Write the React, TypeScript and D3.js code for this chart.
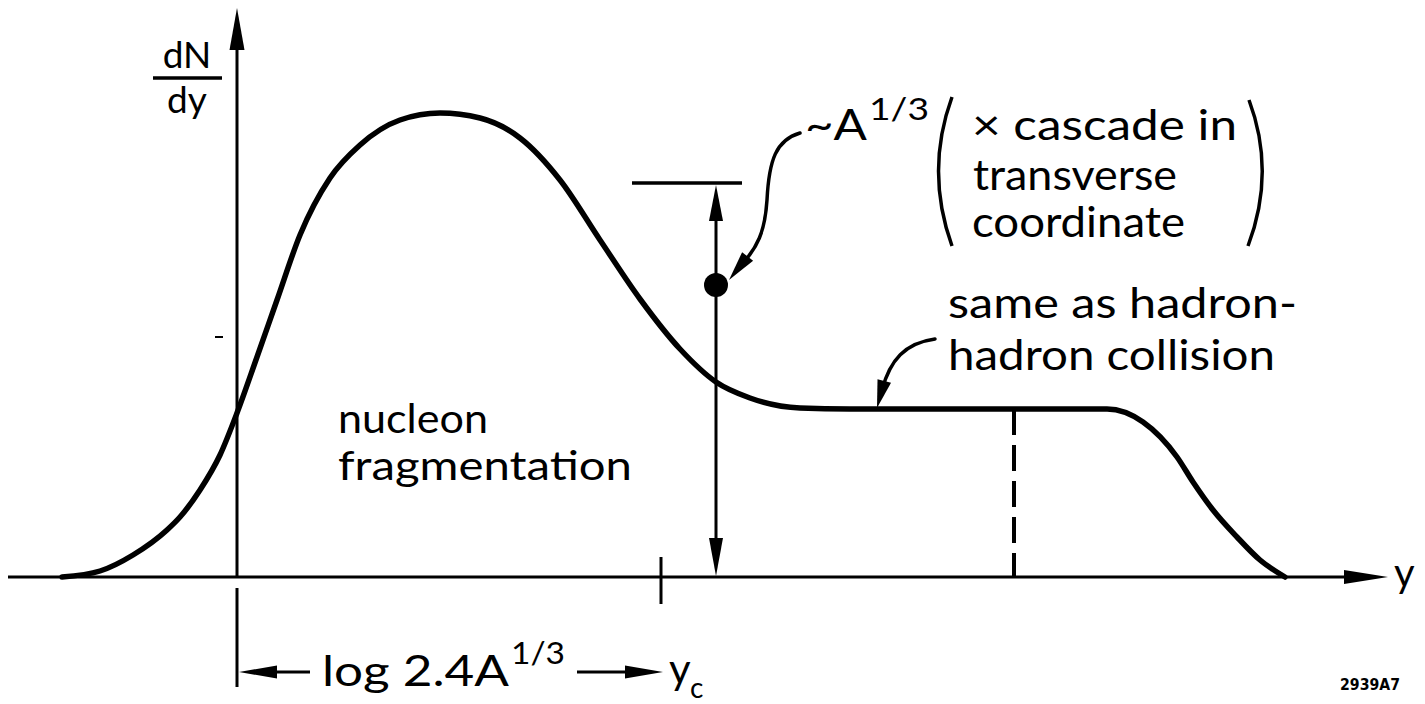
import React from "react";
import * as d3 from "d3";

const W = 1425;
const H = 704;
const FONT = "Lato, 'DejaVu Sans', sans-serif";

// Rapidity samples and the sketched dN/dy of the nucleus–nucleus distribution
const curveRapidity = [
  -1.75, -1.37, -1.04, -0.7, -0.57, -0.37, -0.17, 0, 0.2, 0.4, 0.63, 0.93,
  1.23, 1.63, 2.03, 2.43, 2.83, 3.23, 3.63, 4.03, 4.43, 4.79, 5.13, 5.63, 6.13,
  7.0, 8.0, 8.7, 9.06, 9.4, 9.56, 9.76, 10.0, 10.23, 10.48,
];
const curveDensity = [
  0, 0.06, 0.22, 0.47, 0.6, 0.87, 1.22, 1.64, 2.2, 2.77, 3.42, 3.99, 4.32,
  4.57, 4.64, 4.59, 4.39, 3.97, 3.37, 2.78, 2.28, 1.95, 1.79, 1.69, 1.68, 1.68,
  1.68, 1.68, 1.55, 1.2, 0.95, 0.67, 0.4, 0.17, 0,
];

// Marked rapidities and heights
const yCut = [4.24]; // y_c
const enhancementAt = [4.79]; // the ~A^{1/3} double arrow
const enhancementTop = [3.94];
const enhancementDot = [2.92];
const plateauEnd = [7.77]; // dashed line under the plateau
const plateauLevel = [1.68];

// Text
const cascadeLines = ["\u00d7 cascade in", "transverse", "coordinate"];
const hadronLines = ["same as hadron-", "hadron collision"];
const fragLines = ["nucleon", "fragmentation"];
const figureId = ["2939A7"];

type P = [number, number];

function arrowHead(tip: P, from: P, len: number, hw: number): string {
  const dx = tip[0] - from[0];
  const dy = tip[1] - from[1];
  const d = Math.hypot(dx, dy) || 1;
  const ux = dx / d;
  const uy = dy / d;
  const bx = tip[0] - ux * len;
  const by = tip[1] - uy * len;
  const px = -uy;
  const py = ux;
  return [
    [tip[0], tip[1]],
    [bx + px * hw, by + py * hw],
    [bx - px * hw, by - py * hw],
  ]
    .map((p) => p.join(","))
    .join(" ");
}

export default function App() {
  const x = d3.scaleLinear().domain([0, 10]).range([237, 1237]);
  const y = d3.scaleLinear().domain([0, 5]).range([577, 77]);

  const pts: P[] = curveRapidity.map((r, i) => [r, curveDensity[i]]);
  const line = d3
    .line<P>()
    .x((d) => x(d[0]))
    .y((d) => y(d[1]))
    .curve(d3.curveMonotoneX);

  const x0 = x(0);
  const y0 = y(0);
  const xc = x(yCut[0]);
  const xa = x(enhancementAt[0]);
  const yTop = y(enhancementTop[0]);
  const yDot = y(enhancementDot[0]);
  const xd = x(plateauEnd[0]);
  const yPl = y(plateauLevel[0]);

  const ink = "#000";

  // leader from the ~A^{1/3} label down to the dot
  const lead1 = `M 800 133 C 776 140 769 160 767 200 C 765 232 757 248 742 264`;
  // leader from the hadron-collision label to the plateau
  const lead2 = `M 935 339 C 905 343 890 360 882 390`;

  return (
    <svg
      width={W}
      height={H}
      style={{ position: "absolute", left: 0, top: 0, background: "#fff" }}
      fontFamily={FONT}
    >
      <rect width={W} height={H} fill="#fff" />

      {/* axes */}
      <line x1={8} y1={y0} x2={1360} y2={y0} stroke={ink} strokeWidth={3} />
      <polygon points={arrowHead([1388, y0], [1300, y0], 44, 7)} fill={ink} />
      <line x1={x0} y1={y0} x2={x0} y2={30} stroke={ink} strokeWidth={3} />
      <polygon points={arrowHead([x0, 8], [x0, 100], 42, 7.5)} fill={ink} />
      <line x1={215} y1={337} x2={223} y2={337} stroke={ink} strokeWidth={2} />

      {/* dN/dy label */}
      <text x={187} y={68} fontSize={37} textAnchor="middle" fill={ink}>
        dN
      </text>
      <line x1={153} y1={78} x2={222} y2={78} stroke={ink} strokeWidth={3.5} />
      <text x={187} y={113} fontSize={37} textAnchor="middle" fill={ink}>
        dy
      </text>
      <text x={1394} y={587} fontSize={40} fill={ink}>
        y
      </text>

      {/* the distribution */}
      <path d={line(pts) ?? ""} fill="none" stroke={ink} strokeWidth={5.5} strokeLinejoin="round" strokeLinecap="round" />

      {/* dashed marker at end of plateau */}
      <line
        x1={xd}
        y1={yPl}
        x2={xd}
        y2={y0}
        stroke={ink}
        strokeWidth={4}
        strokeDasharray="26 10"
      />

      {/* y_c tick */}
      <line x1={xc} y1={557} x2={xc} y2={604} stroke={ink} strokeWidth={3} />

      {/* A^{1/3} double arrow */}
      <line x1={632} y1={yTop} x2={742} y2={yTop} stroke={ink} strokeWidth={3.5} />
      <line x1={xa} y1={yTop + 20} x2={xa} y2={y0 - 20} stroke={ink} strokeWidth={3} />
      <polygon points={arrowHead([xa, yTop + 2], [xa, yTop + 60], 36, 7)} fill={ink} />
      <polygon points={arrowHead([xa, y0 - 1], [xa, y0 - 60], 38, 7)} fill={ink} />
      <circle cx={xa} cy={yDot} r={12} fill={ink} />

      {/* ~A^{1/3} label and leader */}
      <path d={lead1} fill="none" stroke={ink} strokeWidth={3.5} strokeLinecap="round" />
      <polygon points={arrowHead([729, 280], [748, 256], 30, 7)} fill={ink} />
      <text x={805} y={140} fontSize={42} fill={ink} textLength={62} lengthAdjust="spacingAndGlyphs">
        ~A
      </text>
      <text x={869} y={120} fontSize={31} fill={ink} textLength={60} lengthAdjust="spacingAndGlyphs">
        1/3
      </text>

      {/* bracketed remark */}
      <path d="M 952 97 Q 925 171 952 246" fill="none" stroke={ink} strokeWidth={3.5} />
      <path d="M 1249 100 Q 1276 172 1248 246" fill="none" stroke={ink} strokeWidth={3.5} />
      <text x={972} y={140} fontSize={42} fill={ink} textLength={265} lengthAdjust="spacingAndGlyphs">
        {cascadeLines[0]}
      </text>
      <text x={973} y={190} fontSize={42} fill={ink} textLength={204} lengthAdjust="spacingAndGlyphs">
        {cascadeLines[1]}
      </text>
      <text x={972} y={237} fontSize={42} fill={ink} textLength={213} lengthAdjust="spacingAndGlyphs">
        {cascadeLines[2]}
      </text>

      {/* hadron-hadron remark */}
      <path d={lead2} fill="none" stroke={ink} strokeWidth={3.5} strokeLinecap="round" />
      <polygon points={arrowHead([877, 408], [884, 382], 28, 7)} fill={ink} />
      <text x={948} y={318} fontSize={42} fill={ink} textLength={349} lengthAdjust="spacingAndGlyphs">
        {hadronLines[0]}
      </text>
      <text x={948} y={370} fontSize={42} fill={ink} textLength={327} lengthAdjust="spacingAndGlyphs">
        {hadronLines[1]}
      </text>

      {/* fragmentation region */}
      <text x={338} y={433} fontSize={40} fill={ink} textLength={150} lengthAdjust="spacingAndGlyphs">
        {fragLines[0]}
      </text>
      <text x={338} y={480} fontSize={40} fill={ink} textLength={294} lengthAdjust="spacingAndGlyphs">
        {fragLines[1]}
      </text>

      {/* log 2.4 A^{1/3} span */}
      <line x1={x0} y1={588} x2={x0} y2={687} stroke={ink} strokeWidth={3} />
      <line x1={x0 + 20} y1={672} x2={310} y2={672} stroke={ink} strokeWidth={3} />
      <polygon points={arrowHead([x0 + 2, 672], [x0 + 80, 672], 38, 6.5)} fill={ink} />
      <text x={322} y={686} fontSize={42} fill={ink} textLength={187} lengthAdjust="spacingAndGlyphs">
        log 2.4A
      </text>
      <text x={511} y={664} fontSize={31} fill={ink} textLength={54} lengthAdjust="spacingAndGlyphs">
        1/3
      </text>
      <line x1={577} y1={672} x2={640} y2={672} stroke={ink} strokeWidth={3} />
      <polygon points={arrowHead([xc + 2, 672], [xc - 80, 672], 38, 6.5)} fill={ink} />
      <text x={669} y={684} fontSize={42} fill={ink}>
        y
      </text>
      <text x={690} y={698} fontSize={28} fill={ink}>
        c
      </text>

      {/* figure number */}
      <text x={1340} y={690} fontSize={16} fontWeight="bold" fontFamily="'DejaVu Sans', sans-serif" fill={ink} textLength={60} lengthAdjust="spacingAndGlyphs">
        {figureId[0]}
      </text>
    </svg>
  );
}
